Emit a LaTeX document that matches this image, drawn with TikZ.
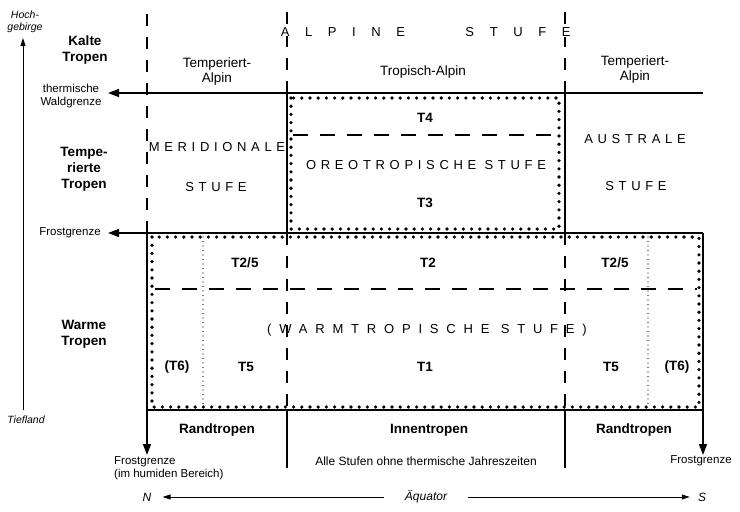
\documentclass[tikz,border=0pt]{standalone}
\usepackage{fontspec}
\setmainfont{Liberation Sans}
\newfontfamily\gesperrt[LetterSpace=36]{Liberation Sans}
\newfontfamily\warmgesperrt[LetterSpace=60]{Liberation Sans}
\newfontfamily\alpingesperrt[LetterSpace=120]{Liberation Sans}
\usetikzlibrary{arrows.meta}

\begin{document}
\begin{tikzpicture}[x=1pt,y=-1pt,
  linie/.style={line width=1.5pt},
  pfeil/.style={line width=1.5pt,-{Triangle[length=11pt,width=8pt]}},
  achse/.style={line width=0.9pt,-{Triangle[length=8pt,width=5pt]}},
  vstrich/.style={line width=1.5pt,dash pattern=on 12pt off 11pt},
  hstrich/.style={line width=1.5pt,dash pattern=on 15pt off 12pt},
  punkte/.style={line width=3.6pt,line cap=round,dash pattern=on 0pt off 8.2pt},
  feinpunkte/.style={line width=1.4pt,line cap=round,dash pattern=on 0pt off 4.5pt},
  txt/.style={font=\fontsize{13.5}{15}\selectfont,align=center,inner sep=1pt},
  klein/.style={font=\fontsize{11.5}{13.5}\selectfont,align=center,inner sep=1pt},
  fett/.style={font=\fontsize{13.5}{16}\selectfont\bfseries,align=center,inner sep=1pt},
  kursiv/.style={font=\fontsize{10.5}{12}\selectfont\itshape,align=center,inner sep=1pt},
  stufe/.style={font=\fontsize{13}{14}\selectfont\gesperrt,inner sep=0pt},
]
\useasboundingbox (0,0) rectangle (740,512);

\coordinate (wg-r) at (703,93);
\coordinate (wg-l) at (108,93);
\coordinate (fg-r) at (703,233);
\coordinate (fg-l) at (108,233);
\coordinate (nord-o) at (147,233);
\coordinate (nord-u) at (147,455);
\coordinate (sued-o) at (703,233);
\coordinate (sued-u) at (703,455);
\coordinate (ax-u) at (23,410);
\coordinate (ax-o) at (23,38);

\draw[pfeil] (wg-r) -- (wg-l);
\draw[pfeil] (fg-r) -- (fg-l);
\draw[pfeil] (nord-o) -- (nord-u);
\draw[pfeil] (sued-o) -- (sued-u);
\draw[linie] (147,410) -- (703,410);
\draw[linie] (287,93) -- (287,233) (565,93) -- (565,233);
\draw[linie] (287,410) -- (287,468) (565,410) -- (565,468);
\draw[vstrich] (147,14) -- (147,233);
\draw[vstrich] (287,12) -- (287,93) (565,12) -- (565,93);
\draw[vstrich] (287,233) -- (287,410) (565,233) -- (565,410);
\draw[hstrich] (293,135) -- (557,135);
\draw[hstrich] (155,289) -- (697,289);
\draw[punkte] (291,98) rectangle (559,229);
\draw[punkte] (152,237) rectangle (699,407);
\draw[feinpunkte] (203,237) -- (203,407) (648,237) -- (648,407);
\draw[achse] (ax-u) -- (ax-o);

\node[kursiv] (hoch) at (25,22) {Hoch-\\gebirge};
\node[kursiv] (tief) at (26,420) {Tiefland};
\node[fett] (kalt) at (85,50) {Kalte\\Tropen};
\node[fett] (temp) at (84,169) {Tempe-\\rierte\\Tropen};
\node[fett] (warm) at (84,334) {Warme\\Tropen};
\node[klein] (wg) at (71,96) {thermische\\Waldgrenze};
\node[klein] (fg) at (70,233) {Frostgrenze};

\node[stufe,font=\fontsize{13}{14}\selectfont\alpingesperrt,fill=white] (alpin) at (343,32) {ALPINE};
\node[stufe,font=\fontsize{13}{14}\selectfont\alpingesperrt,fill=white] (alpstufe) at (518,32) {STUFE};
\node[txt] (tempalp-l) at (217,72) {Temperiert-\\Alpin};
\node[txt] (tropalp) at (423,72) {Tropisch-Alpin};
\node[txt] (tempalp-r) at (635,70) {Temperiert-\\Alpin};

\node[stufe] (meri) at (217,147) {MERIDIONALE};
\node[stufe] (meristufe) at (216,187) {STUFE};
\node[stufe] (oreo) at (426,165) {OREOTROPISCHE\ STUFE};
\node[stufe] (austr) at (635,139) {AUSTRALE};
\node[stufe] (auststufe) at (636,186) {STUFE};
\node[fett] (t4) at (425,118) {T4};
\node[fett] (t3) at (425,203) {T3};

\node[fett] (t25-l) at (245,263) {T2/5};
\node[fett] (t2) at (428,263) {T2};
\node[fett] (t25-r) at (615,263) {T2/5};
\node[stufe,font=\fontsize{13}{14}\selectfont\warmgesperrt] (wst) at (427,330) {(WARMTROPISCHE STUFE)};
\node[fett] (t6-l) at (177,367) {(T6)};
\node[fett] (t5-l) at (246,367) {T5};
\node[fett] (t1) at (425,367) {T1};
\node[fett] (t5-r) at (611,367) {T5};
\node[fett] (t6-r) at (677,367) {(T6)};

\node[fett] (rand-l) at (217,430) {Randtropen};
\node[fett] (innen) at (429,430) {Innentropen};
\node[fett] (rand-r) at (634,430) {Randtropen};
\node[klein,align=left,anchor=west] (fg-n) at (113,468) {Frostgrenze\\(im humiden Bereich)};
\node[klein,font=\fontsize{12}{14}\selectfont] (alle) at (426,461) {Alle Stufen ohne thermische Jahreszeiten};
\node[klein] (fg-s) at (701,461) {Frostgrenze};

\node[kursiv,font=\fontsize{12}{14}\selectfont\itshape,inner xsep=11pt] (N) at (147,497) {N};
\node[kursiv,font=\fontsize{12}{14}\selectfont\itshape,inner xsep=8pt] (S) at (702,497) {S};
\node[kursiv,font=\fontsize{12}{14}\selectfont\itshape,inner xsep=21pt] (aeq) at (426,497) {Äquator};
\draw[achse] (aeq) -- (N);
\draw[achse] (aeq) -- (S);
\end{tikzpicture}
\end{document}
